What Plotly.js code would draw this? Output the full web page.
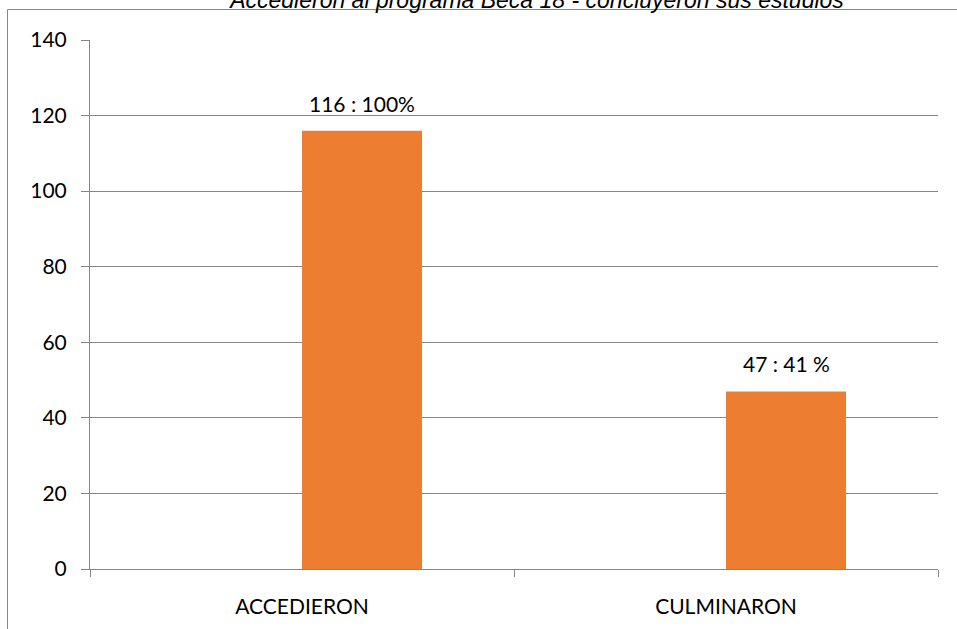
<!DOCTYPE html>
<html><head><meta charset="utf-8">
<script src="https://cdn.plot.ly/plotly-3.0.1.min.js"></script>
<style>html,body{margin:0;padding:0;background:#fff}#c{width:957px;height:629px}</style>
</head><body><div id="c"></div>
<script>
const categories = ["ACCEDIERON", "CULMINARON"];
const values = [116, 47];
const labels = ["116 : 100%", "47 : 41 %"];
const yTicks = [0, 20, 40, 60, 80, 100, 120, 140];
const titleText = "Accedieron al programa Beca 18 - concluyeron sus estudios";

const L = 90, R = 19, T = 40, B = 60, W = 957, H = 629;
const pw = W - L - R, ph = H - T - B;
const bx = (7.5 - L) / pw, by = (H - B - 9.5) / ph;
const lab = {family: "Lato, 'Open Sans', sans-serif", size: 21, color: "#000"};
const barWidth = 0.283;

Plotly.newPlot("c", [{
  type: "bar",
  x: categories,
  y: values,
  marker: {color: "#ED7D31"},
  width: barWidth,
  offset: 0,
  hoverinfo: "none"
}], {
  width: W, height: H,
  margin: {l: L, r: R, t: T, b: B},
  paper_bgcolor: "#fff", plot_bgcolor: "#fff",
  showlegend: false,
  title: {text: "<i>" + titleText + "</i>", x: 537 / W, xref: "container", y: 1 - 8 / H, yref: "container", yanchor: "bottom",
          font: {family: "Liberation Sans, Arial, sans-serif", size: 23, color: "#000"}},
  xaxis: {
    type: "category", range: [-0.5, 1.5], tickson: "boundaries",
    ticks: "outside", ticklen: 7, tickcolor: "#868686",
    showline: true, linecolor: "#868686", linewidth: 1,
    showgrid: false, zeroline: false,
    tickfont: lab,
    ticklabelstandoff: 19
  },
  yaxis: {
    range: [0, 140], tickvals: yTicks, ticktext: yTicks.map(String),
    ticks: "outside", ticklen: 8, tickcolor: "#868686",
    showline: true, linecolor: "#868686", linewidth: 1,
    showgrid: true, gridcolor: "#868686", gridwidth: 1, zeroline: false,
    tickfont: lab,
    ticklabelstandoff: 10
  },
  annotations: values.map((v, i) => ({
    x: i + barWidth / 2, y: v, xref: "x", yref: "y",
    text: labels[i], showarrow: false, yanchor: "bottom", yshift: 13,
    font: lab
  })),
  shapes: [
    {type: "line", xref: "paper", yref: "paper", x0: bx, x1: bx, y0: by, y1: -0.3, line: {color: "#868686", width: 1}},
    {type: "line", xref: "paper", yref: "paper", x0: bx, x1: 1.1, y0: by, y1: by, line: {color: "#868686", width: 1}}
  ]
}, {staticPlot: true});
</script></body></html>
